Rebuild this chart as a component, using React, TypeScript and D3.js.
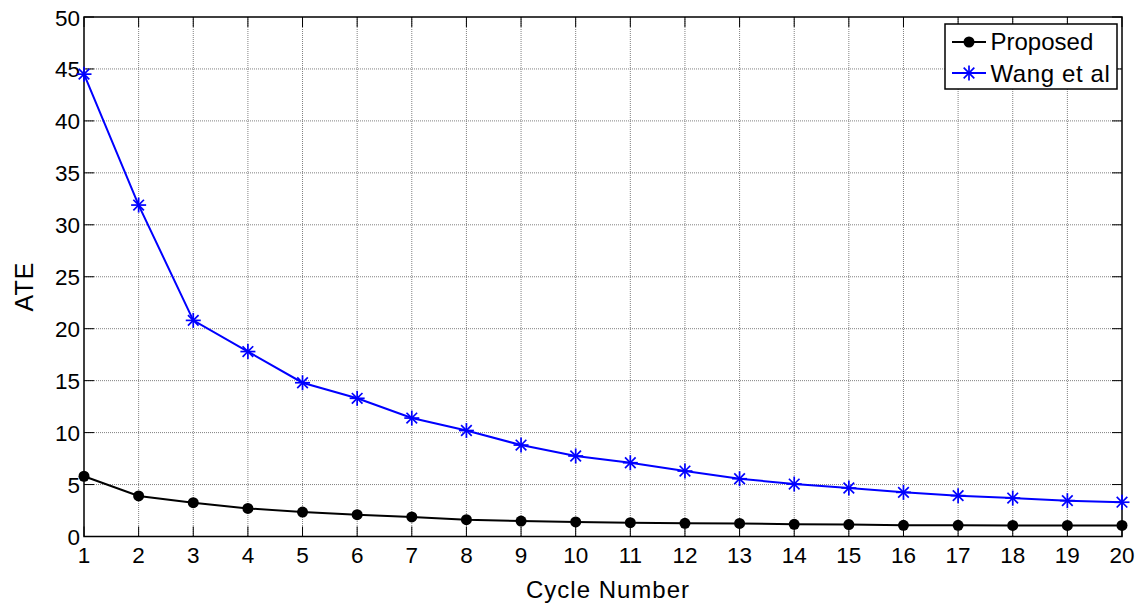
import React from "react";
import * as d3 from "d3";

const cycles = d3.range(1, 21);
const proposed = [5.8, 3.9, 3.25, 2.7, 2.35, 2.1, 1.88, 1.62, 1.49, 1.4, 1.33, 1.27, 1.26, 1.17, 1.15, 1.08, 1.08, 1.07, 1.07, 1.07];
const wang = [44.5, 31.9, 20.8, 17.8, 14.8, 13.3, 11.4, 10.2, 8.8, 7.75, 7.1, 6.3, 5.56, 5.05, 4.67, 4.25, 3.93, 3.7, 3.45, 3.3];
const yTicks = [0, 5, 10, 15, 20, 25, 30, 35, 40, 45, 50];
const seriesNames = ["Proposed", "Wang et al"];

const W = 1145, H = 613;
const L = 84, R = 1122, T = 17, B = 536.5;
const FONT = "'Liberation Sans', Arial, Helvetica, sans-serif";

export default function App() {
  const x = d3.scaleLinear().domain([1, 20]).range([L, R]);
  const y = d3.scaleLinear().domain([0, 50]).range([B, T]);
  const line = d3.line<number>().x((_, i) => x(cycles[i])).y((d) => y(d));

  const star = (cx: number, cy: number, s: number, key: string | number) => {
    const d = s * 0.707;
    return (
      <g key={key} stroke="#0000ff" strokeWidth={1.7}>
        <line x1={cx - s} y1={cy} x2={cx + s} y2={cy} />
        <line x1={cx} y1={cy - s} x2={cx} y2={cy + s} />
        <line x1={cx - d} y1={cy - d} x2={cx + d} y2={cy + d} />
        <line x1={cx - d} y1={cy + d} x2={cx + d} y2={cy - d} />
      </g>
    );
  };

  return (
    <svg width={W} height={H} style={{ position: "absolute", left: 0, top: 0, background: "#fff" }} fontFamily={FONT}>
      <rect x={0} y={0} width={W} height={H} fill="#fff" />
      {/* grid */}
      <g stroke="#808080" strokeWidth={1} strokeDasharray="1,1">
        {cycles.slice(1, -1).map((c) => (
          <line key={"gx" + c} x1={x(c)} x2={x(c)} y1={T} y2={B} />
        ))}
        {yTicks.slice(1, -1).map((v) => (
          <line key={"gy" + v} x1={L} x2={R} y1={y(v)} y2={y(v)} />
        ))}
      </g>
      {/* ticks */}
      <g stroke="#000" strokeWidth={1}>
        {cycles.map((c) => (
          <g key={"tx" + c}>
            <line x1={x(c)} x2={x(c)} y1={B} y2={B - 10} />
            <line x1={x(c)} x2={x(c)} y1={T} y2={T + 10} />
          </g>
        ))}
        {yTicks.map((v) => (
          <g key={"ty" + v}>
            <line x1={L} x2={L + 10} y1={y(v)} y2={y(v)} />
            <line x1={R} x2={R - 10} y1={y(v)} y2={y(v)} />
          </g>
        ))}
      </g>
      <rect x={L} y={T} width={R - L} height={B - T} fill="none" stroke="#000" strokeWidth={1.5} />
      {/* tick labels */}
      <g fontSize={22.5} fill="#000">
        {cycles.map((c) => (
          <text key={"lx" + c} x={x(c)} y={563} textAnchor="middle">{c}</text>
        ))}
        {yTicks.map((v) => (
          <text key={"ly" + v} x={L - 4} y={y(v) + 8.5} textAnchor="end">{v}</text>
        ))}
      </g>
      <text x={608} y={598} fontSize={24} letterSpacing={1} textAnchor="middle">Cycle Number</text>
      <text transform={`translate(33,286.5) rotate(-90)`} fontSize={25} letterSpacing={1} textAnchor="middle">ATE</text>
      {/* series */}
      <path d={line(proposed) || ""} fill="none" stroke="#000" strokeWidth={2} />
      {proposed.map((v, i) => (
        <circle key={"p" + i} cx={x(cycles[i])} cy={y(v)} r={5.5} fill="#000" />
      ))}
      <path d={line(wang) || ""} fill="none" stroke="#0000ff" strokeWidth={2} />
      {wang.map((v, i) => star(x(cycles[i]), y(v), 7.5, "w" + i))}
      {/* legend */}
      <rect x={945} y={24} width={172} height={65} fill="#fff" stroke="#000" strokeWidth={1.5} />
      <line x1={952} x2={986} y1={42} y2={42} stroke="#000" strokeWidth={2} />
      <circle cx={969} cy={42} r={5.5} fill="#000" />
      <text x={990.5} y={50} fontSize={24}>{seriesNames[0]}</text>
      <line x1={952} x2={986} y1={73} y2={73} stroke="#0000ff" strokeWidth={2} />
      {star(969, 73, 7.5, "leg")}
      <text x={990.5} y={81.5} fontSize={24} letterSpacing={0.6}>{seriesNames[1]}</text>
    </svg>
  );
}
